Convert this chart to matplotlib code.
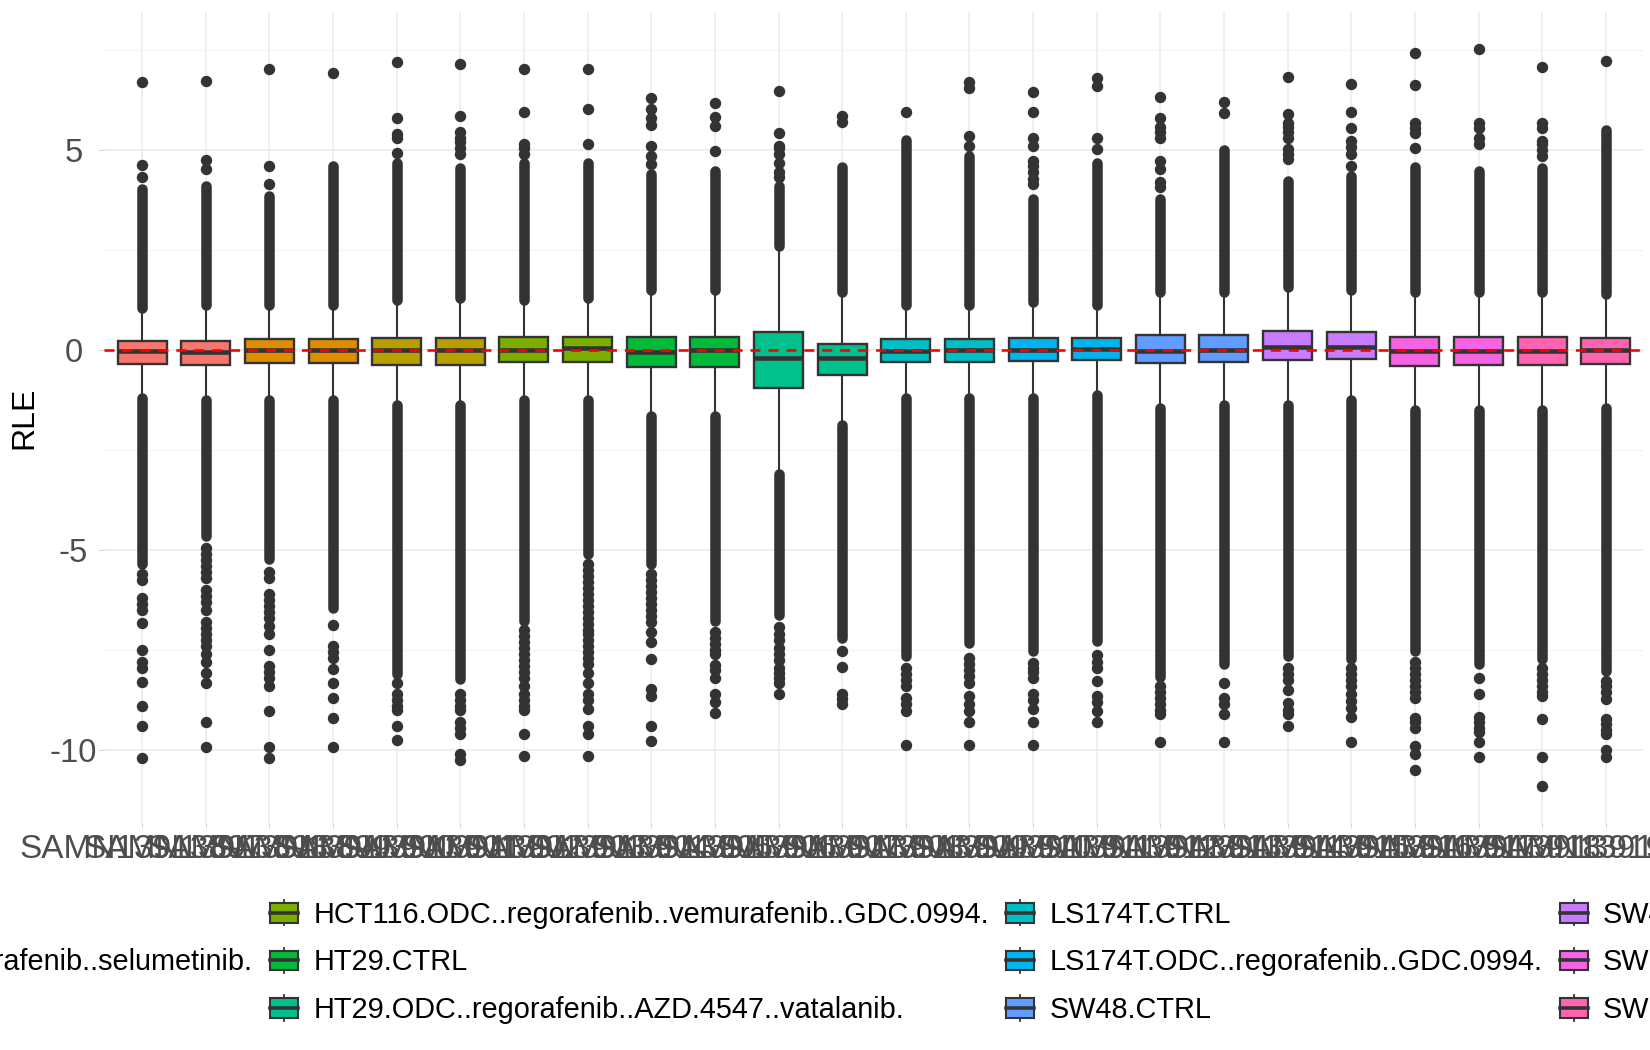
import numpy as np
import matplotlib
matplotlib.use('Agg')
import matplotlib.pyplot as plt
from matplotlib.patches import Rectangle
from matplotlib.lines import Line2D
from matplotlib.legend_handler import HandlerBase

plt.rcParams['font.family'] = ['Liberation Sans', 'DejaVu Sans']
plt.rcParams['axes.unicode_minus'] = False

# 样本名称 (24个样本, 每组两个)
samples = ['SAMN13913897', 'SAMN13913898', 'SAMN13913899', 'SAMN13913900',
           'SAMN13913901', 'SAMN13913902', 'SAMN13913903', 'SAMN13913904',
           'SAMN13913905', 'SAMN13913906', 'SAMN13913907', 'SAMN13913908',
           'SAMN13913909', 'SAMN13913910', 'SAMN13913911', 'SAMN13913912',
           'SAMN13913913', 'SAMN13913914', 'SAMN13913915', 'SAMN13913916',
           'SAMN13913917', 'SAMN13913918', 'SAMN13913919', 'SAMN13913920']

groups = ['HCT116.CTRL',
          'HCT116.ODC..regorafenib..selumetinib.',
          'HCT116.ODC.',
          'HCT116.ODC..regorafenib..vemurafenib..GDC.0994.',
          'HT29.CTRL',
          'HT29.ODC..regorafenib..AZD.4547..vatalanib.',
          'LS174T.CTRL',
          'LS174T.ODC..regorafenib..GDC.0994.',
          'SW48.CTRL',
          'SW48.ODC..regorafenib..selumetinib.',
          'SW620.CTRL',
          'SW620.ODC..regorafenib..vemurafenib.']
group_colors = ['#F8766D', '#DE8C00', '#B79F00', '#7CAE00', '#00BA38', '#00C08B',
                '#00BFC4', '#00B4F0', '#619CFF', '#C77CFF', '#F564E3', '#FF64B0']
sample_group = [0, 0, 1, 1, 2, 2, 3, 3, 4, 4, 5, 5,
                6, 6, 7, 7, 8, 8, 9, 9, 10, 10, 11, 11]

# 箱线图统计量
q1 = [-0.33, -0.36, -0.32, -0.32, -0.36, -0.36, -0.29, -0.29, -0.42, -0.41, -0.94, -0.62,
      -0.29, -0.29, -0.27, -0.24, -0.31, -0.29, -0.25, -0.22, -0.38, -0.37, -0.36, -0.34]
med = [-0.01, -0.03, 0.0, 0.0, 0.0, 0.0, 0.01, 0.05, -0.03, 0.0, -0.2, -0.18,
       -0.01, 0.0, 0.0, 0.03, -0.01, 0.01, 0.08, 0.08, -0.01, -0.01, -0.01, 0.0]
q3 = [0.23, 0.23, 0.28, 0.28, 0.31, 0.31, 0.33, 0.33, 0.34, 0.34, 0.47, 0.17,
      0.28, 0.28, 0.32, 0.31, 0.39, 0.39, 0.48, 0.46, 0.33, 0.33, 0.33, 0.32]
whislo = [-1.07, -1.13, -1.13, -1.13, -1.26, -1.26, -1.13, -1.13, -1.52, -1.52, -2.98, -1.77,
          -1.07, -1.07, -1.07, -1.0, -1.32, -1.26, -1.26, -1.13, -1.39, -1.39, -1.39, -1.32]
whishi = [0.94, 1.03, 1.03, 1.03, 1.16, 1.2, 1.16, 1.2, 1.41, 1.41, 2.5, 1.35,
          1.03, 1.03, 1.1, 1.03, 1.35, 1.35, 1.48, 1.41, 1.35, 1.35, 1.35, 1.29]

# 离群点密集区的端点 (大量点连成一片)
dense_hi = [4.15, 4.22, 3.96, 4.73, 4.79, 4.66, 4.79, 4.79, 4.53, 4.6, 4.22, 4.69,
            5.36, 4.98, 3.9, 4.79, 3.9, 5.11, 4.34, 4.47, 4.69, 4.6, 4.66, 5.62]
dense_lo = [-5.46, -4.76, -5.34, -6.55, -8.2, -8.33, -6.87, -5.21, -5.46, -6.87, -6.74, -7.31,
            -7.76, -7.44, -7.63, -7.38, -8.27, -7.95, -7.76, -7.82, -7.63, -7.95, -7.82, -8.14]

# 稀疏离群点
out_hi = [[4.34, 4.64, 6.70],
          [4.53, 4.75, 6.74],
          [4.15, 4.62, 7.04],
          [6.93],
          [4.94, 5.3, 5.4, 5.82, 7.21],
          [4.92, 5.05, 5.2, 5.3, 5.45, 5.86, 7.15],
          [4.92, 5.05, 5.15, 5.96, 7.04],
          [5.15, 6.03, 7.04],
          [4.66, 4.85, 5.11, 5.64, 5.8, 6.03, 6.32],
          [4.98, 5.62, 5.83, 6.19],
          [4.34, 4.47, 4.69, 4.92, 5.05, 5.11, 5.43, 6.48],
          [5.71, 5.87],
          [5.97],
          [5.11, 5.36, 6.57, 6.7],
          [4.15, 4.28, 4.45, 4.6, 4.73, 5.11, 5.3, 5.96, 6.47],
          [5.04, 5.32, 6.6, 6.8],
          [4.09, 4.22, 4.53, 4.73, 5.3, 5.45, 5.58, 5.81, 6.34],
          [5.94, 6.22],
          [4.79, 4.92, 5.04, 5.3, 5.45, 5.58, 5.68, 5.91, 6.84],
          [4.6, 4.92, 5.08, 5.24, 5.55, 5.96, 6.67],
          [5.07, 5.43, 5.55, 5.68, 6.64, 7.43],
          [5.17, 5.3, 5.55, 5.68, 7.54],
          [4.85, 5.0, 5.15, 5.24, 5.55, 5.68, 7.08],
          [7.24]]
out_lo = [[-5.6, -5.75, -6.2, -6.35, -6.5, -6.83, -7.5, -7.8, -7.95, -8.3, -8.9, -9.4, -10.2],
          [-4.95, -5.1, -5.25, -5.4, -5.55, -5.7, -6.0, -6.15, -6.3, -6.5, -6.8, -6.95, -7.1,
           -7.25, -7.4, -7.6, -7.8, -8.08, -8.33, -9.29, -9.92],
          [-5.55, -5.7, -6.1, -6.25, -6.4, -6.55, -6.7, -6.9, -7.1, -7.5, -7.9, -8.05, -8.2,
           -8.4, -9.03, -9.92, -10.2],
          [-6.87, -7.4, -7.55, -7.7, -7.96, -8.33, -8.7, -9.2, -9.92],
          [-8.33, -8.6, -8.75, -8.9, -9.0, -9.4, -9.75],
          [-8.6, -8.75, -8.9, -9.0, -9.3, -9.45, -9.6, -10.1, -10.25],
          [-7.0, -7.15, -7.3, -7.45, -7.6, -7.75, -7.9, -8.05, -8.2, -8.4, -8.6, -8.75, -8.9,
           -9.0, -9.6, -10.14],
          [-5.34, -5.5, -5.65, -5.8, -5.95, -6.1, -6.25, -6.4, -6.55, -6.7, -6.85, -7.0, -7.1,
           -7.25, -7.4, -7.55, -7.7, -7.85, -8.06, -8.33, -8.6, -8.75, -8.97, -9.4, -9.6, -10.14],
          [-5.6, -5.75, -5.9, -6.05, -6.2, -6.35, -6.5, -6.65, -6.8, -7.05, -7.3, -7.73, -8.46,
           -8.65, -9.4, -9.77],
          [-7.05, -7.2, -7.35, -7.5, -7.6, -7.86, -8.0, -8.2, -8.6, -8.8, -9.07],
          [-6.93, -7.1, -7.25, -7.45, -7.6, -7.75, -7.95, -8.08, -8.2, -8.33, -8.6],
          [-7.52, -7.93, -8.6, -8.72, -8.85],
          [-7.95, -8.1, -8.25, -8.4, -8.7, -8.85, -9.03, -9.87],
          [-7.7, -7.85, -8.0, -8.15, -8.33, -8.65, -8.85, -9.03, -9.3, -9.87],
          [-7.82, -7.95, -8.05, -8.2, -8.6, -8.75, -8.97, -9.3, -9.87],
          [-7.63, -7.8, -7.95, -8.28, -8.65, -8.8, -9.03, -9.29],
          [-8.4, -8.55, -8.7, -8.85, -9.0, -9.1, -9.8],
          [-8.33, -8.7, -8.85, -9.1, -9.8],
          [-7.95, -8.1, -8.25, -8.5, -8.83, -9.0, -9.1, -9.4],
          [-7.95, -8.1, -8.25, -8.4, -8.6, -8.78, -8.95, -9.16, -9.8],
          [-7.8, -7.95, -8.1, -8.25, -8.4, -8.55, -8.7, -9.2, -9.3, -9.45, -9.9, -10.1, -10.5],
          [-8.2, -8.6, -9.16, -9.3, -9.45, -9.55, -9.8, -10.18],
          [-7.95, -8.1, -8.25, -8.4, -8.55, -8.65, -9.22, -10.18, -10.9],
          [-8.27, -8.4, -8.55, -8.72, -9.22, -9.35, -9.5, -9.6, -10.0, -10.18]]

dark = '#333333'
pt_size = 7.6          # 点直径 (pt)
r_units = 0.11         # 圆头线段收缩量 (数据单位)

fig = plt.figure(figsize=(16.5, 10.5), dpi=100)
ax = fig.add_axes([104 / 1650, (1050 - 823) / 1050, 1540 / 1650, 811 / 1050])

pos = np.arange(1, len(samples) + 1)

# 密集离群点区域画成粗线
ax.vlines(pos, np.array(whishi) + r_units, np.array(dense_hi) - r_units,
          colors=dark, linewidth=pt_size, capstyle='round', zorder=2)
ax.vlines(pos, np.array(dense_lo) + r_units, np.array(whislo) - r_units,
          colors=dark, linewidth=pt_size, capstyle='round', zorder=2)

stats = []
for i in range(len(samples)):
    stats.append({'med': med[i], 'q1': q1[i], 'q3': q3[i],
                  'whislo': whislo[i], 'whishi': whishi[i],
                  'fliers': out_hi[i] + out_lo[i]})

bp = ax.bxp(stats, positions=pos, widths=0.77, patch_artist=True, showcaps=False,
            boxprops=dict(edgecolor=dark, linewidth=1.7),
            medianprops=dict(color=dark, linewidth=3.3),
            whiskerprops=dict(color=dark, linewidth=1.5),
            flierprops=dict(marker='o', markerfacecolor=dark, markeredgecolor=dark,
                            markersize=pt_size - 0.4, linestyle='none'),
            zorder=3)
for patch, g in zip(bp['boxes'], sample_group):
    patch.set_facecolor(group_colors[g])

ax.axhline(0, color='red', linewidth=1.9, linestyle=(0, (3.8, 3.0)), zorder=5)

# 坐标范围 (ggplot 默认扩展 5%)
all_lo = min(min(o) for o in out_lo)
all_hi = max(max(o) for o in out_hi)
span = all_hi - all_lo
ax.set_ylim(all_lo - 0.05 * span, all_hi + 0.05 * span)
ax.set_xlim(0.4, len(samples) + 0.6)

ax.set_yticks([-10, -5, 0, 5])
ax.set_yticks([-7.5, -2.5, 2.5, 7.5], minor=True)
ax.set_yticklabels(['-10', '-5', '0', '5'], ha='center')
ax.set_xticks(pos)
ax.set_xticklabels(samples)
ax.grid(which='major', color='#EBEBEB', linewidth=1.1, zorder=0)
ax.grid(which='minor', axis='y', color='#F3F3F3', linewidth=0.8, zorder=0)
ax.set_axisbelow(True)
for s in ax.spines.values():
    s.set_visible(False)
ax.tick_params(axis='y', which='major', length=4.3, color='#D9D9D9', pad=17.7,
               labelsize=23.5, labelcolor='#4D4D4D')
ax.tick_params(axis='y', which='minor', length=0)
ax.tick_params(axis='x', length=3.6, color='#D9D9D9', pad=4,
               labelsize=24, labelcolor='#4D4D4D')
ax.set_ylabel('RLE', fontsize=23, color='black')
ax.yaxis.set_label_coords(-(104 - 24) / 1540, 0.5)
ax.yaxis.label.set_verticalalignment('center')


# 图例中的箱线图符号
class BoxKey(HandlerBase):
    def create_artists(self, legend, orig, xd, yd, w, h, fs, trans):
        x0, y0 = -xd, -yd
        fc = orig.get_facecolor()
        bh = 0.78 * h
        by = y0 + (h - bh) / 2
        box = Rectangle((x0, by), w, bh, facecolor=fc, edgecolor=dark,
                        linewidth=1.5, transform=trans)
        mline = Line2D([x0, x0 + w], [y0 + h / 2] * 2, color=dark, linewidth=2.6, transform=trans)
        wtop = Line2D([x0 + w / 2] * 2, [by + bh, y0 + h], color=dark, linewidth=1.3, transform=trans)
        wbot = Line2D([x0 + w / 2] * 2, [y0, by], color=dark, linewidth=1.3, transform=trans)
        return [wtop, wbot, box, mline]


handles = [Rectangle((0, 0), 1, 1, facecolor=c) for c in group_colors]
leg = fig.legend(handles, groups, ncol=4, loc='center left',
                 bbox_to_anchor=(-300 / 1650, (1050 - 962) / 1050),
                 frameon=False, fontsize=20.8, handlelength=0.97, handleheight=0.97,
                 handletextpad=0.52, columnspacing=0.6, labelspacing=0.66,
                 borderpad=0, borderaxespad=0,
                 handler_map={Rectangle: BoxKey()})

fig.savefig('out.png', dpi=100)
